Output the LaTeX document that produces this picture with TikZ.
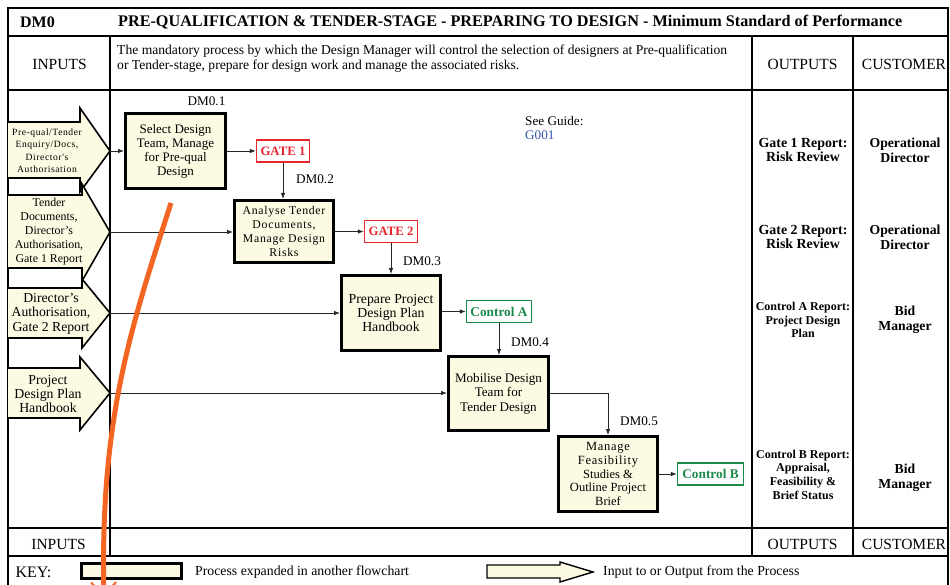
\documentclass[tikz,border=0pt]{standalone}
\usepackage{fontspec}
\setmainfont{Liberation Serif}
\newfontfamily\spaced[LetterSpace=6]{Liberation Serif}
\usetikzlibrary{arrows.meta}
\definecolor{cream}{HTML}{FCFAE2}
\definecolor{gatered}{HTML}{E8262D}
\definecolor{ctrlgreen}{HTML}{1A8A4A}
\definecolor{guideblue}{HTML}{3355AA}
\definecolor{annot}{HTML}{F26522}
\tikzset{
  frame/.style={line width=2.2pt},
  grid/.style={line width=1.3pt},
  proc/.style={draw=black, line width=3pt, fill=cream, align=center, inner sep=1pt,
    font=\fontsize{13}{14}\selectfont},
  gatebox/.style={draw=gatered, line width=1.4pt, fill=white, text=gatered,
    font=\fontsize{12.8}{13}\selectfont\bfseries, minimum width=53pt, minimum height=22pt, inner sep=1pt},
  ctrlbox/.style={draw=ctrlgreen, line width=1.4pt, fill=white, text=ctrlgreen,
    font=\fontsize{13.3}{14}\selectfont\bfseries, minimum height=22pt, inner sep=1pt},
  inarrow/.style={draw=black, line width=1.6pt, fill=cream, line join=miter},
  intext/.style={align=center, inner sep=0pt, font=\fontsize{13.7}{14.5}\selectfont},
  conn/.style={draw=black!85, line width=0.8pt, -{Latex[length=6pt,width=4.5pt]}},
  lbl/.style={inner sep=0pt, font=\fontsize{13.2}{14}\selectfont},
  hdr/.style={inner sep=0pt, font=\fontsize{15.5}{16}\selectfont},
  outtext/.style={align=center, inner sep=0pt, font=\fontsize{13.9}{14}\selectfont\bfseries},
  smallout/.style={align=center, inner sep=0pt, font=\fontsize{12}{13.2}\selectfont\bfseries},
  custtext/.style={align=center, inner sep=0pt, font=\fontsize{13.7}{15}\selectfont\bfseries},
  keytext/.style={inner sep=0pt, font=\fontsize{13.8}{14}\selectfont},
}
\begin{document}
\begin{tikzpicture}[x=1pt,y=-1pt]
\useasboundingbox (0,0) rectangle (950,585);
\clip (0,0) rectangle (950,585);
\fill[white] (0,0) rectangle (950,585);

% grid lines
\draw[grid] (8,90) -- (948,90);
\draw[grid] (8,528) -- (948,528);
\draw[frame] (8,36) -- (948,36);
\draw[frame] (8,556) -- (948,556);
\draw[grid] (110,36) -- (110,556);
\draw[grid] (752,36) -- (752,556);
\draw[frame] (853,36) -- (853,556);
\draw[frame] (8,8) rectangle (948,598);

% title row
\node[inner sep=0pt, font=\fontsize{16}{16}\selectfont\bfseries] (dmid) at (37.5,22) {DM0};
\node[inner sep=0pt, anchor=west, font=\fontsize{16.2}{16}\selectfont\bfseries] (title) at (118,22)
  {PRE-QUALIFICATION \& TENDER-STAGE - PREPARING TO DESIGN - Minimum Standard of Performance};

% header row
\node[hdr] (hin) at (59.5,64) {INPUTS};
\node[anchor=north west, align=left, inner sep=0pt, font=\fontsize{13.6}{15}\selectfont] (desc) at (117,44.5)
  {The mandatory process by which the Design Manager will control the selection of designers at Pre-qualification\\
   or Tender-stage, prepare for design work and manage the associated risks.};
\node[hdr] (hout) at (802.5,64) {OUTPUTS};
\node[hdr] (hcust) at (904,64) {CUSTOMER};

% bottom header row
\node[hdr] (fin) at (58.5,544) {INPUTS};
\node[hdr] (fout) at (802.5,544) {OUTPUTS};
\node[hdr] (fcust) at (904,544) {CUSTOMER};

% key row
\node[inner sep=0pt, font=\fontsize{16}{16}\selectfont] (keyl) at (33.5,572) {KEY:};
\node[draw=black, line width=3pt, fill=cream, minimum width=100pt, minimum height=15pt, inner sep=0pt] (keyproc) at (131.5,571) {};
\node[keytext, anchor=west] (keyproct) at (195,572) {Process expanded in another flowchart};
\draw[inarrow, line width=1.4pt] (487,565) -- (560,565) -- (560,562) -- (593,572) -- (560,582) -- (560,578) -- (487,578) -- cycle;
\node[keytext, anchor=west] (keyarrt) at (603,572) {Input to or Output from the Process};

% input arrows
\draw[inarrow] (8,122) -- (80,122) -- (80,108) -- (110,151) -- (80,192) -- (80,178) -- (8,178);
\draw[inarrow] (8,195) -- (82,195) -- (82,184) -- (110,232) -- (82,281) -- (82,268) -- (8,268);
\draw[inarrow] (8,288) -- (82,288) -- (82,279) -- (110,313) -- (82,348) -- (82,338) -- (8,338);
\draw[inarrow] (8,368) -- (80,368) -- (80,357) -- (110,393) -- (80,430) -- (80,418) -- (8,418);
\coordinate (in1) at (110,151);
\coordinate (in2) at (110,232);
\coordinate (in3) at (110,313);
\coordinate (in4) at (110,393);
\node[intext, font=\fontsize{9.6}{12.5}\selectfont\spaced] (t1) at (47,150.5) {Pre-qual/Tender\\Enquiry/Docs,\\Director's\\Authorisation};
\node[intext, font=\fontsize{11.9}{14}\selectfont] (t2) at (49,231.5) {Tender\\Documents,\\Director's\\Authorisation,\\Gate 1 Report};
\node[intext] (t3) at (51,313.5) {Director's\\Authorisation,\\Gate 2 Report};
\node[intext, font=\fontsize{13.8}{14}\selectfont] (t4) at (48,394) {Project\\Design Plan\\Handbook};

% process boxes
\node[proc, minimum width=100pt, minimum height=75pt] (dm01) at (175.5,151) {Select Design\\Team, Manage\\for Pre-qual\\Design};
\node[proc, minimum width=99pt, minimum height=62pt, font=\fontsize{11.8}{13.7}\selectfont\spaced] (dm02) at (284,231.5) {Analyse Tender\\Documents,\\Manage Design\\Risks};
\node[proc, minimum width=99pt, minimum height=75pt, font=\fontsize{13.8}{14}\selectfont] (dm03) at (391,313) {Prepare Project\\Design Plan\\Handbook};
\node[proc, minimum width=100pt, minimum height=74pt, font=\fontsize{13.1}{14.5}\selectfont] (dm04) at (498.5,393.5) {Mobilise Design\\Team for\\Tender Design};
\node[proc, minimum width=99pt, minimum height=75pt, font=\fontsize{12.5}{13.7}\selectfont] (dm05) at (608,474) {{\spaced Manage}\\{\spaced Feasibility}\\Studies \&\\Outline Project\\Brief};

\node[lbl] (l1) at (206.5,101) {DM0.1};
\node[lbl] (l2) at (315,179.5) {DM0.2};
\node[lbl] (l3) at (422,261) {DM0.3};
\node[lbl] (l4) at (530,342) {DM0.4};
\node[lbl] (l5) at (639,421) {DM0.5};

% gates and controls
\node[gatebox] (g1) at (283,151) {GATE 1};
\node[gatebox] (g2) at (391,231.5) {GATE 2};
\node[ctrlbox, minimum width=65pt] (ca) at (499,311.5) {Control A};
\node[ctrlbox, minimum width=66pt] (cb) at (710.5,474) {Control B};

\node[lbl, anchor=north west, align=left, font=\fontsize{13.2}{14}\selectfont] (guide) at (525,116.5) {See Guide:\\\textcolor{guideblue}{G001}};

% connectors
\draw[conn] (in1) -- (dm01.west |- in1);
\draw[conn] (dm01.east |- g1) -- (g1.west);
\draw[conn] (g1.south) -- (g1.south |- dm02.north);
\draw[conn] (in2) -- (dm02.west |- in2);
\draw[conn] (dm02.east |- g2) -- (g2.west);
\draw[conn] (g2.south) -- (g2.south |- dm03.north);
\draw[conn] (in3) -- (dm03.west |- in3);
\draw[conn] (dm03.east |- ca) -- (ca.west);
\draw[conn] (ca.south) -- (ca.south |- dm04.north);
\draw[conn] (in4) -- (dm04.west |- in4);
\draw[conn] (dm04.east) -| (dm05.north);
\draw[conn] (dm05.east |- cb) -- (cb.west);

% outputs
\node[outtext] (o1) at (803,150) {Gate 1 Report:\\Risk Review};
\node[outtext] (o2) at (803,236.5) {Gate 2 Report:\\Risk Review};
\node[smallout] (o3) at (803,320) {Control A Report:\\Project Design\\Plan};
\node[smallout, font=\fontsize{12}{13.7}\selectfont\bfseries] (o4) at (803,474.5) {Control B Report:\\Appraisal,\\Feasibility \&\\Brief Status};
\node[custtext] (c1) at (905,150.5) {Operational\\Director};
\node[custtext] (c2) at (905,237) {Operational\\Director};
\node[custtext] (c3) at (905,319.5) {Bid\\Manager};
\node[custtext] (c4) at (905,478) {Bid\\Manager};

% annotation curve
\coordinate (annS) at (171,203);
\coordinate (annE) at (104,600);
\draw[annot, line width=5pt, -{Stealth[length=26pt,width=40pt,inset=19pt]}] (annS) .. controls (130,330) and (100,420) .. (annE);
\end{tikzpicture}
\end{document}
